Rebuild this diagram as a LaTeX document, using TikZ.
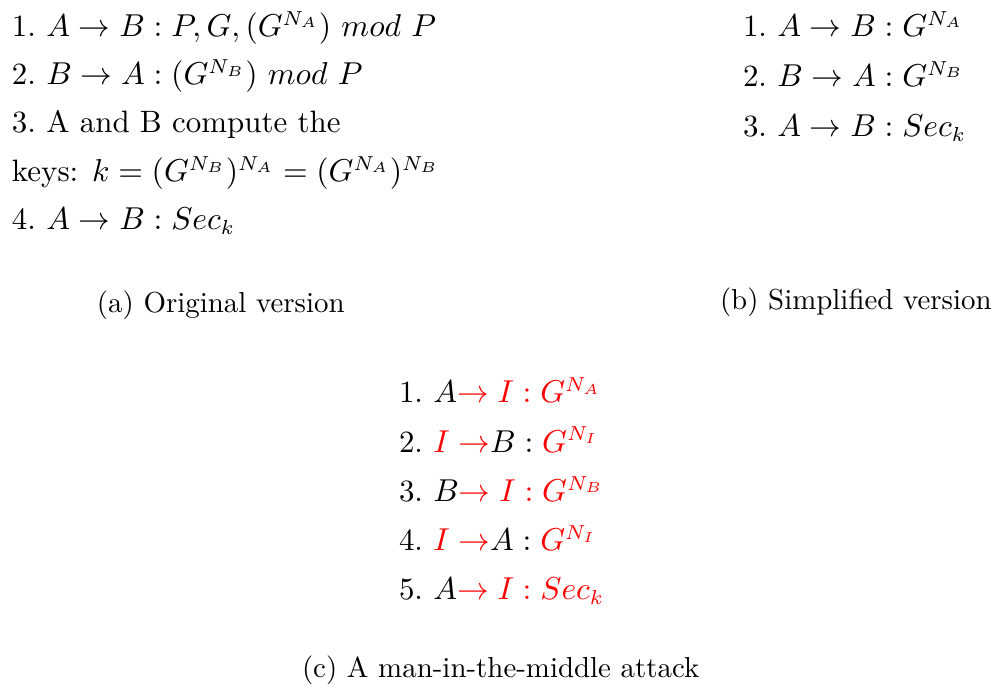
\documentclass[tikz,border=0pt]{standalone}
\usepackage{amsmath}
\begin{document}
\begin{tikzpicture}[x=0.346pt,y=-0.346pt,
  ln/.style={anchor=base west,inner sep=0pt,outer sep=0pt,font=\fontsize{10.7}{12}\selectfont},
  captext/.style={anchor=base west,inner sep=0pt,outer sep=0pt,font=\fontsize{10}{12}\selectfont}]
\useasboundingbox (0,0) rectangle (993,690);
% (a) Original version
\node[ln] (a1) at (12,36.5) {1.\ $A\rightarrow B: P, G, (G^{N_A})\ mod\ P$};
\node[ln] (a2) at (12,84.8) {2.\ $B\rightarrow A: (G^{N_B})\ mod\ P$};
\node[ln] (a3) at (12,133) {3.\ A and B compute the};
\node[ln] (a4) at (12,181.5) {keys: $k=(G^{N_B})^{N_A}=(G^{N_A})^{N_B}$};
\node[ln] (a5) at (12,230) {4.\ $A\rightarrow B: Sec_k$};
\node[captext] (capa) at (97,313) {(a) Original version};
% (b) Simplified version
\node[ln] (b1) at (743,36.5) {1.\ $A\rightarrow B: G^{N_A}$};
\node[ln] (b2) at (743,86.5) {2.\ $B\rightarrow A: G^{N_B}$};
\node[ln] (b3) at (743,136.5) {3.\ $A\rightarrow B: Sec_k$};
\node[captext] (capb) at (720,310) {(b) Simplified version};
% (c) man-in-the-middle
\node[ln] (c1) at (399,403) {1.\ $A\textcolor{red}{\rightarrow I: G^{N_A}}$};
\node[ln] (c2) at (399,452.2) {2.\ $\textcolor{red}{I\rightarrow}B: \textcolor{red}{G^{N_I}}$};
\node[ln] (c3) at (399,501.5) {3.\ $B\textcolor{red}{\rightarrow I: G^{N_B}}$};
\node[ln] (c4) at (399,550.8) {4.\ $\textcolor{red}{I\rightarrow}A: \textcolor{red}{G^{N_I}}$};
\node[ln] (c5) at (399,600) {5.\ $A\textcolor{red}{\rightarrow I: Sec_k}$};
\node[captext] (capc) at (302,678) {(c) A man-in-the-middle attack};
\end{tikzpicture}
\end{document}
